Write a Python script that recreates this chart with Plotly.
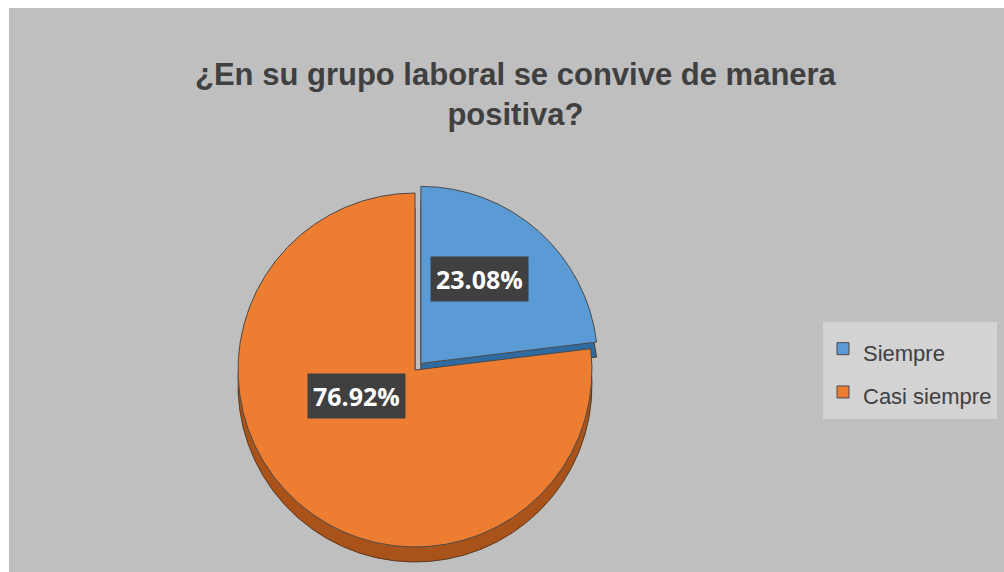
import math
import plotly.graph_objects as go

# ---- data ----
categories = ["Siempre", "Casi siempre"]
values = [23.08, 76.92]
title_lines = ["¿En su grupo laboral se convive de manera", "positiva?"]

# ---- style ----
W, H = 1004, 572
top_colors = ["#5b9bd5", "#ed7d31"]
side_colors = ["#2f6aa0", "#a9521a"]
pulls = [0.05, 0.0]

cx, cy, r = 415, 370, 177      # pie centre / radius in pixels
depth = 15                      # pseudo 3D thickness
half = r * (1 + max(pulls))

def dom(cx_, cy_):
    return dict(x=[(cx_ - half) / W, (cx_ + half) / W],
                y=[1 - (cy_ + half) / H, 1 - (cy_ - half) / H])

fig = go.Figure()

# side / depth layer
fig.add_trace(go.Pie(
    labels=categories, values=values, sort=False, direction="clockwise",
    rotation=0, pull=pulls, domain=dom(cx, cy + depth),
    marker=dict(colors=side_colors, line=dict(color="#5a3a20", width=1)),
    textinfo="none", hoverinfo="skip", showlegend=False,
))

# top face
legend_labels = [f"<span style='font-size:22px'>{c}</span>" for c in categories]
fig.add_trace(go.Pie(
    labels=categories, values=values, sort=False, direction="clockwise",
    rotation=0, pull=pulls, domain=dom(cx, cy),
    marker=dict(colors=top_colors, line=dict(color="#4a4a4a", width=1)),
    textinfo="none", showlegend=True,
))

# data labels positioned from the slice geometry
total = sum(values)
start = 0.0
annotations = []
for v, p in zip(values, pulls):
    mid = start + v / total * 180.0
    start += v / total * 360.0
    ang = math.radians(mid)
    rr = r * (0.5 + p)
    x = cx + rr * math.sin(ang)
    y = cy - rr * math.cos(ang) - 0.1 * r
    annotations.append(dict(
        x=x / W, y=1 - y / H, xref="paper", yref="paper",
        text=f"<b>{v:.2f}%</b>", showarrow=False,
        font=dict(family="Open Sans", size=25, color="white"),
        bgcolor="#404040", borderpad=5,
    ))

annotations.append(dict(
    x=516 / W, y=1 - 95 / H, xref="paper", yref="paper",
    xanchor="center", yanchor="middle", showarrow=False,
    text="<b>" + "<br>".join(title_lines) + "</b>",
    font=dict(family="Liberation Sans", size=31, color="#404040"),
))

fig.update_layout(
    width=W, height=H,
    margin=dict(l=0, r=0, t=0, b=0),
    paper_bgcolor="white",
    shapes=[dict(type="rect", xref="paper", yref="paper",
                 x0=9 / W, x1=1, y0=0, y1=1 - 8 / H,
                 fillcolor="#bfbfbf", line=dict(width=0), layer="below")],
    legend=dict(x=823 / W, xanchor="left", y=1 - 322 / H, yanchor="top",
                bgcolor="#d3d3d3", borderwidth=0,
                font=dict(family="Liberation Sans", size=31, color="#404040"),
                itemwidth=30),
    annotations=annotations,
)

# smaller legend text while keeping taller entry spacing
fig.data[1].labels = legend_labels

fig.write_html("out.html")
